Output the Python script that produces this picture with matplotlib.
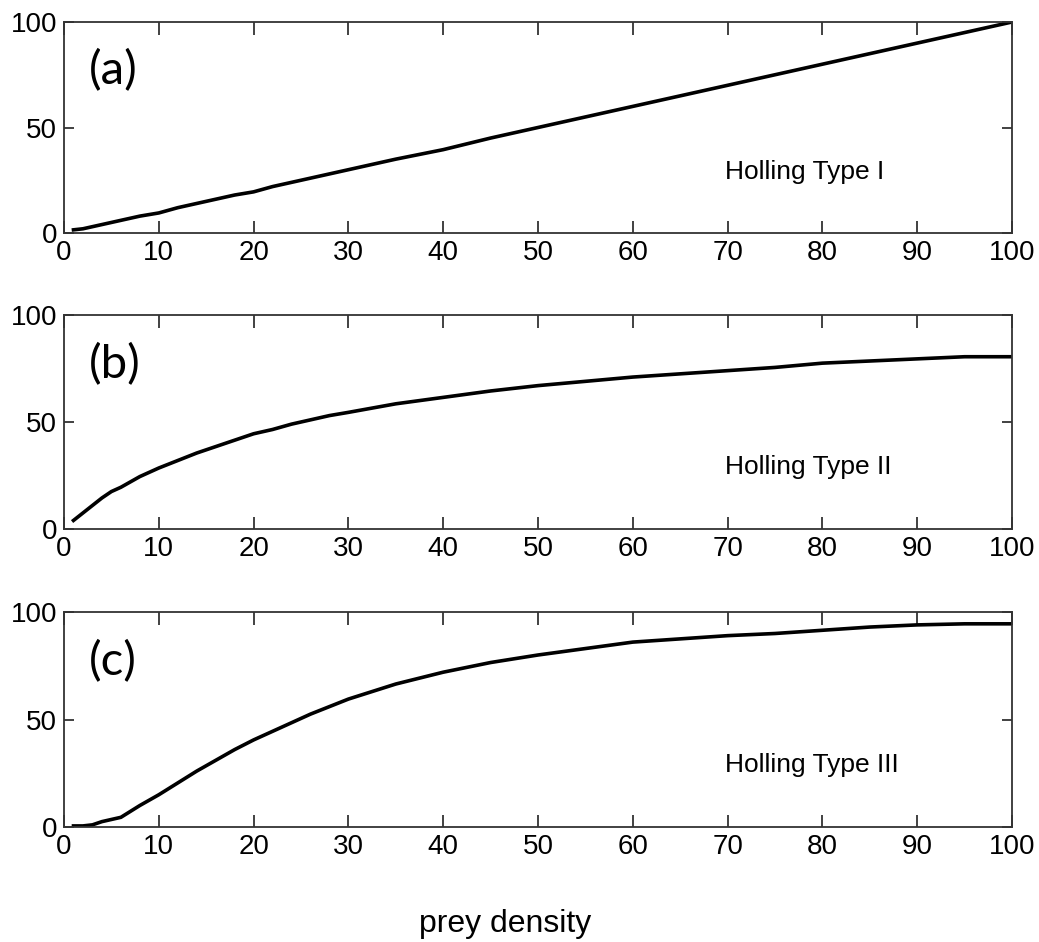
import matplotlib.pyplot as plt

# prey density samples and the three functional responses
prey = [1, 2, 3, 4, 5, 6, 8, 10, 12, 14, 16, 18, 20, 22, 24, 26, 28, 30,
        35, 40, 45, 50, 55, 60, 65, 70, 75, 80, 85, 90, 95, 100]
type1 = [1.5, 2, 3, 4, 5, 6, 8, 9.5, 12, 14, 16, 18, 19.5, 22, 24, 26, 28, 30,
         35, 39.5, 45, 50, 55, 60, 65, 70, 75, 80, 85, 90, 95, 100]
type2 = [4, 7.5, 11, 14.5, 17.5, 19.5, 24.5, 28.5, 32, 35.5, 38.5, 41.5, 44.5, 46.5,
         49, 51, 53, 54.5, 58.5, 61.5, 64.5, 67, 69, 71, 72.5, 74, 75.5, 77.5,
         78.5, 79.5, 80.5, 80.5]
type3 = [0.5, 0.5, 1, 2.5, 3.5, 4.5, 10, 15, 20.5, 26, 31, 36, 40.5, 44.5, 48.5,
         52.5, 56, 59.5, 66.5, 72, 76.5, 80, 83, 86, 87.5, 89, 90, 91.5, 93, 94,
         94.5, 94.5]

panel_tags = ['(a)', '(b)', '(c)']
panel_names = ['Holling Type I', 'Holling Type II', 'Holling Type III']
curves = [type1, type2, type3]

x_ticks = list(range(0, 101, 10))
y_ticks = [0, 50, 100]

W, H = 1039, 942
fig = plt.figure(figsize=(W / 100, H / 100), dpi=100)

# pixel boxes (top, bottom) of each panel
tops = [22, 315, 612]
bottoms = [233, 529, 827]
left, right = 64, 1012

for i in range(3):
    ax = fig.add_axes([left / W, 1 - bottoms[i] / H, (right - left) / W,
                       (bottoms[i] - tops[i]) / H])
    ax.plot(prey, curves[i], color='black', linewidth=2.6)
    ax.set_xlim(0, 100)
    ax.set_ylim(0, 100)
    ax.set_xticks(x_ticks)
    ax.set_yticks(y_ticks)
    ax.tick_params(axis='both', direction='in', top=True, right=True,
                   labelsize=20, color='#333333', width=1.3)
    ax.tick_params(axis='x', length=9, pad=5)
    ax.tick_params(axis='y', length=7, pad=5)
    for lab in ax.get_xticklabels() + ax.get_yticklabels():
        lab.set_family('Liberation Sans')
    for sp in ax.spines.values():
        sp.set_linewidth(1.3)
        sp.set_color('#333333')
    ax.text(2.6, 77, panel_tags[i], fontsize=34, family='Lato',
            ha='left', va='center')
    ax.text(69.7, 29, panel_names[i], fontsize=19, family='Liberation Sans',
            ha='left', va='center')

fig.text(505 / W, 1 - 932 / H, 'prey density', fontsize=23,
         family='Liberation Sans', ha='center', va='baseline')

fig.savefig('out.png', dpi=100)
